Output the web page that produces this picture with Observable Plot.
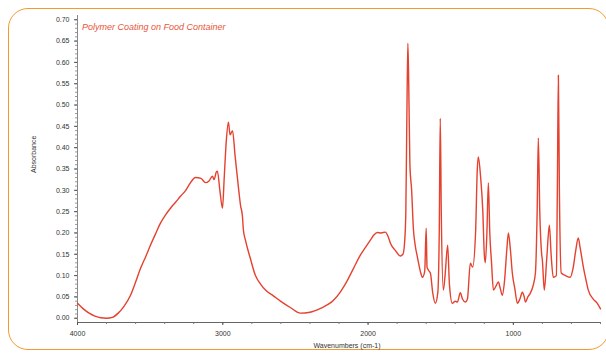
<!DOCTYPE html>
<html>
<head>
<meta charset="utf-8">
<script src="https://cdn.jsdelivr.net/npm/d3@7"></script>
<script src="https://cdn.jsdelivr.net/npm/@observablehq/plot@0.6"></script>
<style>
  html, body { margin: 0; padding: 0; background: #fff; }
  #wrap { position: relative; width: 606px; height: 354px; overflow: hidden; font-family: "Liberation Sans", Arial, sans-serif; }
  #frame { position: absolute; left: 8px; top: 8px; width: 601px; height: 342px; border: 1.5px solid #f39a2e; border-radius: 20px; box-sizing: border-box; }
  #title { position: absolute; left: 82px; top: 22px; font-size: 9px; font-style: italic; color: #e8553a; white-space: nowrap; }
  #chart { position: absolute; left: 0; top: 0; }
</style>
</head>
<body>
<div id="wrap">
  <div id="frame"></div>
  <div id="chart"></div>
  <div id="title">Polymer Coating on Food Container</div>
</div>
<script>
const wavenumbers = [
  4000, 3960, 3920, 3880, 3840, 3800, 3760, 3720, 3680, 3635, 3600, 3566, 3530, 3498, 3460, 3429,
  3395, 3360, 3325, 3291, 3255, 3222, 3188, 3150, 3119, 3095, 3071, 3060, 3044, 3037, 3020, 3002,
  2990, 2975, 2961, 2950, 2933, 2915, 2890, 2878, 2865, 2858, 2844, 2810, 2775, 2740, 2706, 2650,
  2603, 2530, 2466, 2400, 2328, 2238, 2190, 2142, 2100, 2053, 2020, 1984, 1960, 1936, 1910, 1881,
  1860, 1846, 1810, 1778, 1760, 1748, 1740, 1732, 1726, 1720, 1712, 1700, 1688, 1675, 1660, 1640,
  1626, 1610, 1600, 1594, 1585, 1571, 1555, 1537, 1520, 1510, 1503, 1496, 1482, 1470, 1452, 1440,
  1420, 1400, 1385, 1365, 1350, 1330, 1316, 1296, 1280, 1260, 1248, 1241, 1225, 1210, 1200, 1193,
  1182, 1172, 1162, 1150, 1137, 1120, 1103, 1090, 1076, 1060, 1045, 1034, 1020, 1007, 990, 972,
  955, 938, 925, 917, 900, 883, 865, 848, 836, 828, 818, 805, 800, 787, 770, 752,
  740, 725, 704, 697, 690, 683, 670, 640, 608, 590, 570, 553, 540, 518, 500, 484,
  450, 422, 400
];
const absorbance = [
  0.035, 0.022, 0.012, 0.005, 0.001, 0.000, 0.002, 0.012, 0.028, 0.054, 0.085, 0.117, 0.145, 0.171, 0.200, 0.223,
  0.242, 0.258, 0.272, 0.286, 0.300, 0.318, 0.330, 0.328, 0.318, 0.322, 0.333, 0.325, 0.343, 0.345, 0.300, 0.258,
  0.330, 0.420, 0.460, 0.430, 0.440, 0.380, 0.300, 0.265, 0.240, 0.207, 0.183, 0.140, 0.100, 0.080, 0.066, 0.052,
  0.040, 0.024, 0.012, 0.014, 0.023, 0.042, 0.062, 0.089, 0.117, 0.148, 0.165, 0.183, 0.195, 0.201, 0.200, 0.202,
  0.190, 0.176, 0.158, 0.146, 0.150, 0.180, 0.250, 0.500, 0.645, 0.550, 0.360, 0.300, 0.210, 0.170, 0.143, 0.110,
  0.096, 0.110, 0.211, 0.120, 0.113, 0.106, 0.060, 0.035, 0.060, 0.200, 0.469, 0.250, 0.066, 0.100, 0.171, 0.080,
  0.035, 0.040, 0.038, 0.060, 0.045, 0.038, 0.045, 0.129, 0.120, 0.200, 0.350, 0.378, 0.330, 0.250, 0.150, 0.130,
  0.200, 0.317, 0.200, 0.130, 0.066, 0.075, 0.085, 0.070, 0.054, 0.090, 0.160, 0.200, 0.160, 0.106, 0.070, 0.035,
  0.045, 0.061, 0.050, 0.038, 0.050, 0.059, 0.075, 0.106, 0.250, 0.423, 0.250, 0.150, 0.136, 0.066, 0.140, 0.218,
  0.150, 0.096, 0.100, 0.300, 0.570, 0.300, 0.106, 0.100, 0.096, 0.115, 0.160, 0.188, 0.165, 0.120, 0.090, 0.066,
  0.045, 0.035, 0.022
];
const yTicks = [0.00, 0.05, 0.10, 0.15, 0.20, 0.25, 0.30, 0.35, 0.40, 0.45, 0.50, 0.55, 0.60, 0.65, 0.70];
const xTicks = [4000, 3000, 2000, 1000];
const xMinorTicks = [4000, 3800, 3600, 3400, 3200, 3000, 2800, 2600, 2400, 2200, 2000, 1800, 1600, 1400, 1200, 1000, 800, 600, 400];
const yMinorTicks = [0.00, 0.01, 0.02, 0.03, 0.04, 0.05, 0.06, 0.07, 0.08, 0.09, 0.10, 0.11, 0.12, 0.13, 0.14, 0.15, 0.16, 0.17, 0.18, 0.19, 0.20, 0.21, 0.22, 0.23, 0.24, 0.25, 0.26, 0.27, 0.28, 0.29, 0.30, 0.31, 0.32, 0.33, 0.34, 0.35, 0.36, 0.37, 0.38, 0.39, 0.40, 0.41, 0.42, 0.43, 0.44, 0.45, 0.46, 0.47, 0.48, 0.49, 0.50, 0.51, 0.52, 0.53, 0.54, 0.55, 0.56, 0.57, 0.58, 0.59, 0.60, 0.61, 0.62, 0.63, 0.64, 0.65, 0.66, 0.67, 0.68, 0.69, 0.70];

const data = wavenumbers.map((w, i) => ({w, a: absorbance[i]}));

const chart = Plot.plot({
  width: 606,
  height: 354,
  marginLeft: 77,
  marginRight: 6,
  marginTop: 15,
  marginBottom: 32,
  style: {fontFamily: "Liberation Sans, Arial, sans-serif", fontSize: "7px", color: "#333", background: "transparent"},
  x: {domain: [4000, 400], label: null},
  y: {domain: [-0.01, 0.71], label: null},
  marks: [
    Plot.ruleY([-0.01], {stroke: "#666", strokeWidth: 1}),
    Plot.ruleX([4000], {stroke: "#888", strokeWidth: 1}),
    Plot.axisY({ticks: yMinorTicks, tickSize: 2, anchor: "left", text: null, stroke: "#999", tickPadding: 0}),
    Plot.axisY({ticks: yTicks, tickSize: 3, tickFormat: d3.format(".2f"), anchor: "left", stroke: "#555", tickPadding: 5, fill: "#333"}),
    Plot.axisX({ticks: xMinorTicks, tickSize: 2, anchor: "bottom", text: null, stroke: "#777"}),
    Plot.axisX({ticks: xTicks, tickSize: 3, tickFormat: d => String(d), anchor: "bottom", stroke: "#555", tickPadding: 6, fill: "#333"}),
    Plot.line(data, {x: "w", y: "a", stroke: "#e4412e", strokeWidth: 1.4, curve: "monotone-x"}),
    Plot.text(["Wavenumbers (cm-1)"], {frameAnchor: "bottom", dy: 25, dx: 8, fill: "#333", fontSize: 7}),
    Plot.text(["Absorbance"], {frameAnchor: "left", dx: -44, dy: 4, rotate: -90, fill: "#333", fontSize: 7})
  ]
});
document.getElementById("chart").appendChild(chart);
</script>
</body>
</html>
